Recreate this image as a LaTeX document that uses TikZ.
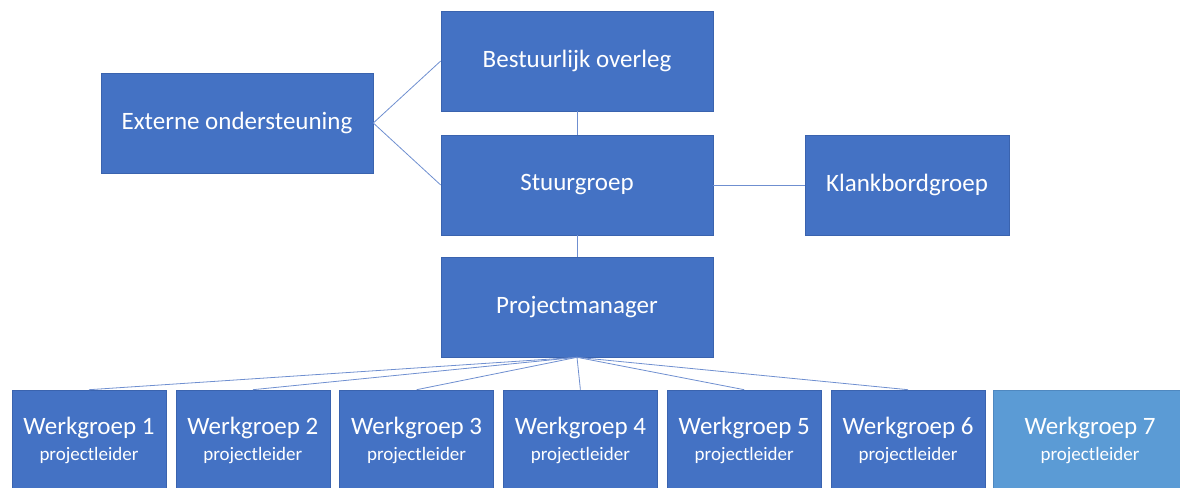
\documentclass[tikz,border=0pt]{standalone}
\usepackage{fontspec}
\setmainfont{Carlito}
\definecolor{boxblue}{HTML}{4472C4}
\definecolor{boxedge}{HTML}{3A63AE}
\definecolor{lightbox}{HTML}{5B9BD5}
\definecolor{lightedge}{HTML}{4F88C0}
\definecolor{linkblue}{HTML}{6F8FD0}
\begin{document}
\begin{tikzpicture}[
    x=1pt, y=-1pt,
    unit/.style={draw=boxedge, fill=boxblue, line width=0.6pt, text=white,
        minimum width=272pt, minimum height=100pt, inner sep=0pt,
        font=\fontsize{25}{29}\selectfont},
    group/.style={unit, minimum width=154pt, minimum height=100pt,
        align=center, font=\fontsize{25}{28}\selectfont},
    link/.style={draw=linkblue, line width=0.8pt}
]
    \useasboundingbox (0,0) rectangle (1180,487);
    \clip (0,0) rectangle (1180,487);

    % Top part
    \node[unit] (bestuur) at (577,61) {Bestuurlijk overleg};
    \node[unit] (stuur) at (577,185) {Stuurgroep};
    \node[unit] (pm) at (577,307) {Projectmanager};
    \node[unit] (extern) at (237,123) {Externe ondersteuning};
    \node[unit, minimum width=204pt] (klank) at (907,185) {Klankbordgroep};

    % Werkgroepen
    \foreach \i in {1,...,6} {
        \node[group] (wg\i) at ({89+163.8*(\i-1)},440)
            {Werkgroep \i\\[-2pt]{\fontsize{19}{22}\selectfont projectleider}};
    }
    \node[group, fill=lightbox, draw=lightedge, minimum width=194pt]
        (wg7) at (1090,440)
        {Werkgroep 7\\[-2pt]{\fontsize{19}{22}\selectfont projectleider}};

    % Connectors
    \draw[link] (extern.east) -- (bestuur.west);
    \draw[link] (extern.east) -- (stuur.west);
    \draw[link] (bestuur) -- (stuur);
    \draw[link] (stuur) -- (pm);
    \draw[link] (stuur) -- (klank);
    \foreach \i in {1,...,6} {
        \draw[link] (pm.south) -- (wg\i.north);
    }

\end{tikzpicture}
\end{document}
